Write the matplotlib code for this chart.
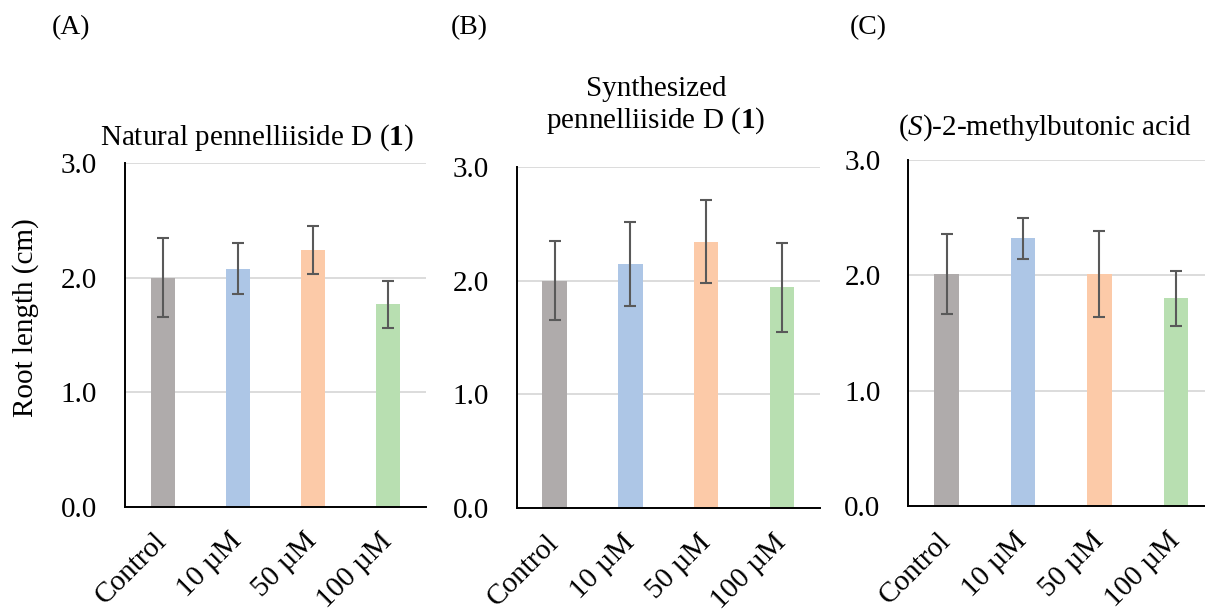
import matplotlib
matplotlib.use("Agg")
import matplotlib.pyplot as plt
import numpy as np

plt.rcParams['font.family'] = ['Liberation Serif', 'DejaVu Serif']
plt.rcParams['mathtext.fontset'] = 'custom'
plt.rcParams['mathtext.rm'] = 'Liberation Serif'
plt.rcParams['mathtext.it'] = 'Liberation Serif:italic'
plt.rcParams['mathtext.bf'] = 'Liberation Serif:bold'

categories = ["Control", "10 µM", "50 µM", "100 µM"]
colors = ["#AFABAB", "#ADC6E6", "#FCCAA8", "#B8DFB1"]

values_A = [2.00, 2.08, 2.24, 1.77]
errors_A = [0.345, 0.22, 0.21, 0.205]
values_B = [2.00, 2.145, 2.34, 1.94]
errors_B = [0.35, 0.365, 0.365, 0.39]
values_C = [2.01, 2.32, 2.01, 1.80]
errors_C = [0.345, 0.177, 0.375, 0.24]

yticks = [0.0, 1.0, 2.0, 3.0]
ytick_labels = ["0.0", "1.0", "2.0", "3.0"]

titles = ["Natural pennelliiside D ($\\mathbf{1}$)",
          "Synthesized\npennelliiside D ($\\mathbf{1}$)",
          "($\\mathit{S}$)-2-methylbutonic acid"]
panel_labels = ["(A)", "(B)", "(C)"]

W, H = 1205, 612
fig = plt.figure(figsize=(W / 100, H / 100), dpi=100)

# pixel boxes: left, right, top(y=3), bottom(y=0)
boxes = [(125, 426, 163.3, 506.7),
         (516.7, 820, 166.7, 508.3),
         (908.3, 1214, 160, 506)]
title_pos = [(257, 145), (656, 128), (1045, 135)]
label_pos = [(71, 28), (469, 28), (868, 28)]

datasets = [(values_A, errors_A), (values_B, errors_B), (values_C, errors_C)]
x = np.arange(len(categories))
FS = 21

for i, ((l, r, t, b), (vals, errs)) in enumerate(zip(boxes, datasets)):
    ax = fig.add_axes([l / W, (H - b) / H, (r - l) / W, (b - t) / H])
    ax.bar(x, vals, width=0.32, color=colors, zorder=2)
    ax.errorbar(x, vals, yerr=errs, fmt='none', ecolor='#595959', elinewidth=1.5,
                capsize=4.5, capthick=1.5, zorder=3)
    ax.set_xlim(-0.5, 3.5)
    ax.set_ylim(0, 3.0)
    ax.set_yticks(yticks)
    ax.set_yticklabels(ytick_labels, fontsize=FS)
    ax.yaxis.grid(True, color='#D9D9D9', linewidth=1.3, zorder=0)
    ax.set_axisbelow(True)
    for s in ['top', 'right']:
        ax.spines[s].set_visible(False)
    for s in ['left', 'bottom']:
        ax.spines[s].set_linewidth(1.4)
        ax.spines[s].set_color('black')
    ax.tick_params(axis='both', length=0)
    ax.tick_params(axis='y', pad=20)
    ax.set_xticks(x)
    ax.set_xticklabels(categories, fontsize=FS, rotation=45, ha='right',
                       va='center', rotation_mode='anchor')
    ax.tick_params(axis='x', pad=22)
    if i == 0:
        ax.set_ylabel("Root length (cm)", fontsize=FS)
        ax.yaxis.set_label_coords((39 - l) / (r - l), (b - 318) / (b - t))
    fig.text(title_pos[i][0] / W, 1 - title_pos[i][1] / H, titles[i],
             ha='center', va='baseline', fontsize=FS, linespacing=1.15)
    fig.text(label_pos[i][0] / W, 1 - label_pos[i][1] / H, panel_labels[i],
             ha='center', va='center', fontsize=20)

fig.savefig("out.png", dpi=100)
